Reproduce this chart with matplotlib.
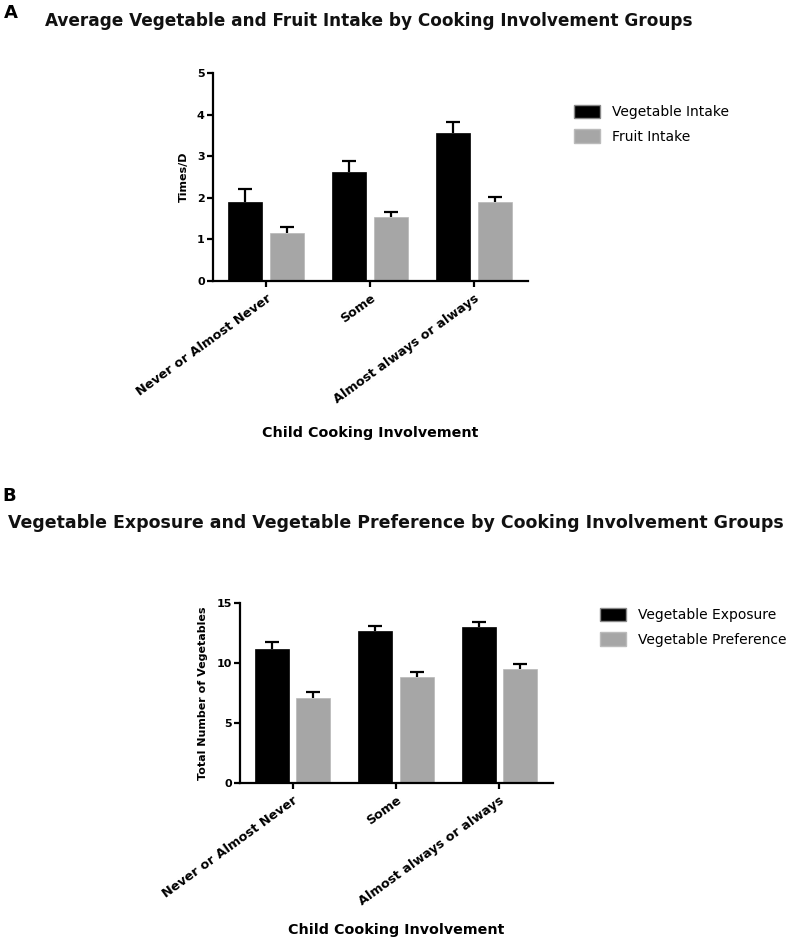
import numpy as np
import matplotlib
matplotlib.use('Agg')
import matplotlib.pyplot as plt
import matplotlib.patches as mpatches

# ---- data ----
groups = ['Never or Almost Never', 'Some', 'Almost always or always']

veg_intake = [1.91, 2.61, 3.56]
veg_intake_err = [0.31, 0.27, 0.27]
fruit_intake = [1.16, 1.53, 1.91]
fruit_intake_err = [0.14, 0.13, 0.12]

veg_exposure = [11.2, 12.64, 13.0]
veg_exposure_err = [0.55, 0.48, 0.43]
veg_preference = [7.12, 8.85, 9.52]
veg_preference_err = [0.43, 0.43, 0.41]

BLACK = '#000000'
GRAY = '#a6a6a6'
FONT = 'DejaVu Sans'

plt.rcParams['font.family'] = FONT

fig = plt.figure(figsize=(8, 9.41), dpi=100)


def up_errors(ax, x, vals, errs):
    # only the upper half of the error bar, with a cap on top
    _, caps, _ = ax.errorbar(x, vals, yerr=[np.zeros(len(errs)), errs], fmt='none',
                             ecolor=BLACK, elinewidth=1.6, capsize=5, capthick=1.6)
    caps[0].set_visible(False)


def panel(ax, s1, e1, s2, e2, ylim, yticks, ylabel, labels, xpad):
    x = np.arange(len(groups))
    w = 0.33
    ax.bar(x - 0.2, s1, w, color=BLACK, edgecolor=BLACK, linewidth=0.5)
    ax.bar(x + 0.2, s2, w, color=GRAY, edgecolor='#b8b8b8', linewidth=0.5)
    up_errors(ax, x - 0.2, s1, e1)
    up_errors(ax, x + 0.2, s2, e2)
    ax.set_xlim(-0.51, 2.52)
    ax.set_ylim(*ylim)
    ax.set_yticks(yticks)
    ax.set_yticklabels([str(t) for t in yticks], fontsize=8, fontweight='bold')
    ax.set_xticks(x)
    ax.set_xticklabels(groups, rotation=36, ha='right', rotation_mode='anchor',
                       fontsize=9.2, fontweight='bold')
    for s in ['top', 'right']:
        ax.spines[s].set_visible(False)
    for s in ['left', 'bottom']:
        ax.spines[s].set_linewidth(1.6)
    ax.tick_params(width=1.6, length=4, pad=2)
    ax.tick_params(axis='x', pad=4)
    ax.set_ylabel(ylabel, fontsize=8, fontweight='bold', labelpad=6)
    ax.set_xlabel('Child Cooking Involvement', fontsize=10.3, fontweight='bold',
                  labelpad=xpad)
    handles = [mpatches.Patch(facecolor=BLACK, edgecolor='#888888', label=labels[0]),
               mpatches.Patch(facecolor=GRAY, edgecolor='#bbbbbb', label=labels[1])]
    return handles


leg_kw = dict(loc='upper left', frameon=False, fontsize=10, handlelength=1.9,
              handleheight=1.1, handletextpad=0.85, labelspacing=0.75)

# ---- panel A ----
axA = fig.add_axes([213 / 800, 1 - 281 / 941, 315 / 800, 208 / 941])
hA = panel(axA, veg_intake, veg_intake_err, fruit_intake, fruit_intake_err,
           (0, 5), [0, 1, 2, 3, 4, 5], 'Times/D',
           ['Vegetable Intake', 'Fruit Intake'], 14)
fig.legend(handles=hA, bbox_to_anchor=(561 / 800, 1 - 92 / 941), **leg_kw)

fig.text(4 / 800, 1 - 4 / 941, 'A', fontsize=13, fontweight='bold', va='top')
fig.text(45 / 800, 1 - 21 / 941,
         'Average Vegetable and Fruit Intake by Cooking Involvement Groups',
         fontsize=12.2, fontweight='bold', va='center', color='#111111')

# ---- panel B ----
axB = fig.add_axes([240 / 800, 1 - 783 / 941, 313 / 800, 180 / 941])
hB = panel(axB, veg_exposure, veg_exposure_err, veg_preference, veg_preference_err,
           (0, 15), [0, 5, 10, 15], 'Total Number of Vegetables',
           ['Vegetable Exposure', 'Vegetable Preference'], 11)
fig.legend(handles=hB, bbox_to_anchor=(587 / 800, 1 - 595 / 941), **leg_kw)

fig.text(2 / 800, 1 - 487 / 941, 'B', fontsize=13, fontweight='bold', va='top')
fig.text(8 / 800, 1 - 523 / 941,
         'Vegetable Exposure and Vegetable Preference by Cooking Involvement Groups',
         fontsize=12.5, fontweight='bold', va='center', color='#111111')

fig.savefig('out.png', dpi=100, facecolor='white')
